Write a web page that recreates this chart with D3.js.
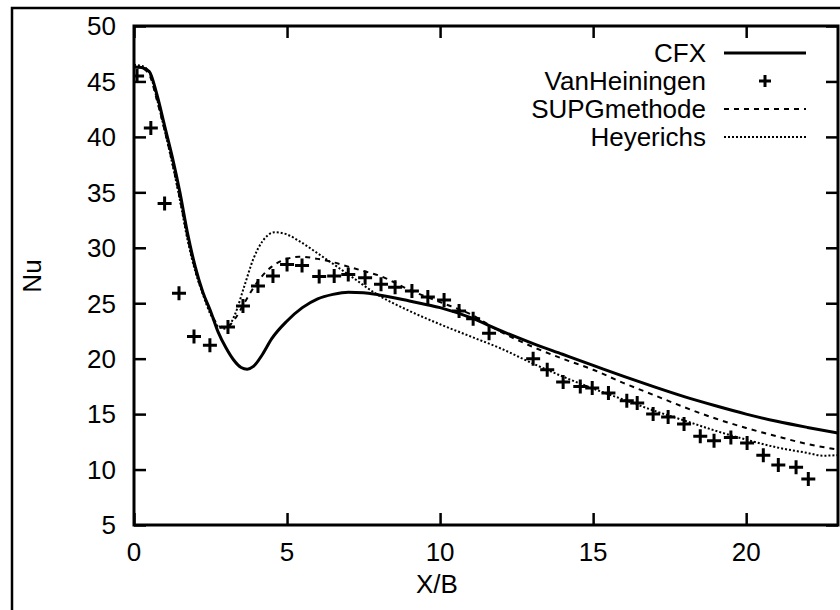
<!DOCTYPE html>
<html>
<head>
<meta charset="utf-8">
<script src="https://cdn.jsdelivr.net/npm/d3@7"></script>
<style>
  body { margin: 0; background: #fff; }
  text { font-family: "Liberation Sans", Arial, sans-serif; fill: #000; }
</style>
</head>
<body>
<div id="chart"></div>
<script>
// X/B positions and Nu values
var cfxX = [0, 0.25, 0.5, 0.75, 1.0, 1.25, 1.5, 1.75, 2.0, 2.25, 2.5, 2.75, 3.0, 3.25, 3.5, 3.7, 3.9, 4.2, 4.5, 5.0, 5.5, 6.0, 6.5, 7.0, 7.5, 8, 9, 10, 11, 12, 13, 14, 15, 16, 17, 18, 19, 20, 21, 22, 23];
var cfxNu = [46.3, 46.25, 45.9, 43.8, 41.0, 38.2, 35.0, 31.3, 28.3, 26.0, 24.3, 22.4, 21.0, 19.9, 19.2, 19.05, 19.3, 20.4, 21.8, 23.4, 24.6, 25.4, 25.8, 26.0, 25.95, 25.75, 25.2, 24.6, 23.7, 22.5, 21.4, 20.4, 19.4, 18.4, 17.45, 16.55, 15.75, 15.0, 14.35, 13.8, 13.3];

var supgX = [0, 0.25, 0.5, 0.75, 1.0, 1.25, 1.5, 1.75, 2.0, 2.25, 2.5, 2.8, 3.0, 3.3, 3.6, 4.0, 4.5, 5.0, 5.4, 6.0, 6.5, 7.0, 7.5, 8.0, 9, 10, 11, 12, 13, 14, 15, 16, 17, 18, 19, 20, 21, 22, 23];
var supgNu = [46.3, 46.2, 45.6, 43.3, 40.6, 37.7, 34.4, 30.9, 28.0, 25.9, 24.2, 22.9, 22.8, 23.6, 25.0, 26.8, 28.3, 29.0, 29.2, 29.0, 28.7, 28.3, 27.9, 27.5, 26.2, 25.1, 24.0, 22.4, 21.1, 20.0, 19.0, 17.8, 16.7, 15.6, 14.6, 13.75, 13.0, 12.3, 11.8];

var heyX = [0, 0.25, 0.5, 0.75, 1.0, 1.25, 1.5, 1.75, 2.0, 2.25, 2.5, 2.8, 3.0, 3.3, 3.6, 3.9, 4.2, 4.6, 5.0, 5.4, 6.0, 7.0, 8.0, 9, 10, 11, 12, 13, 14, 15, 16, 17, 18, 19, 20, 21, 22, 22.5, 23];
var heyNu = [46.5, 46.4, 45.8, 43.4, 40.6, 37.6, 34.3, 30.7, 27.9, 25.8, 24.0, 22.8, 22.7, 24.0, 26.5, 29.0, 30.6, 31.4, 31.2, 30.6, 29.5, 27.6, 25.7, 24.3, 23.1, 22.0, 20.9, 19.6, 18.4, 17.3, 16.3, 15.3, 14.4, 13.5, 12.7, 12.0, 11.5, 11.25, 11.3];

var vhX = [0.1, 0.55, 1.0, 1.47, 1.96, 2.48, 3.07, 3.56, 4.05, 4.54, 5.0, 5.49, 6.05, 6.54, 7.0, 7.55, 8.07, 8.53, 9.08, 9.6, 10.13, 10.62, 11.08, 11.6, 13.04, 13.5, 14.02, 14.58, 14.97, 15.5, 16.1, 16.44, 16.96, 17.45, 17.97, 18.5, 18.95, 19.5, 20.03, 20.56, 21.05, 21.63, 22.03];
var vhNu = [45.5, 40.8, 34.0, 25.9, 22.0, 21.2, 22.85, 24.75, 26.55, 27.45, 28.5, 28.4, 27.4, 27.45, 27.6, 27.3, 26.7, 26.45, 26.1, 25.55, 25.3, 24.3, 23.6, 22.3, 20.0, 19.0, 17.9, 17.5, 17.35, 16.9, 16.2, 16.0, 15.0, 14.75, 14.1, 13.0, 12.6, 12.9, 12.4, 11.3, 10.4, 10.2, 9.15];

var xTicks = [0, 5, 10, 15, 20];
var yTicks = [5, 10, 15, 20, 25, 30, 35, 40, 45, 50];
var legendNames = ["CFX", "VanHeiningen", "SUPGmethode", "Heyerichs"];

var W = 840, H = 610;
var pL = 134, pR = 838, pT = 26, pB = 525;
var fs = "26px";

var svg = d3.select("#chart").append("svg")
    .attr("width", W)
    .attr("height", H);

// outer frame (runs off the picture at right and bottom)
svg.append("rect")
    .attr("x", 12).attr("y", 8)
    .attr("width", 840).attr("height", 640)
    .attr("fill", "none")
    .attr("stroke", "#000")
    .attr("stroke-width", 2.5);

var x = d3.scaleLinear().domain([0, 23]).range([pL, pR]);
var y = d3.scaleLinear().domain([5, 50]).range([pB, pT]);

svg.append("clipPath").attr("id", "clip")
    .append("rect")
    .attr("x", pL).attr("y", pT)
    .attr("width", pR - pL).attr("height", pB - pT);

// ticks pointing inward on all four sides, labels on left and bottom
var tl = 12;
function noDomain(g) { g.select(".domain").remove(); }
svg.append("g")
    .attr("transform", "translate(" + pL + ",0)")
    .call(d3.axisRight(y).tickValues(yTicks).tickSize(tl).tickFormat(""))
    .call(noDomain);
svg.append("g")
    .attr("transform", "translate(" + pR + ",0)")
    .call(d3.axisLeft(y).tickValues(yTicks).tickSize(tl).tickFormat(""))
    .call(noDomain);
svg.append("g")
    .attr("transform", "translate(0," + pB + ")")
    .call(d3.axisTop(x).tickValues(xTicks).tickSize(tl).tickFormat(""))
    .call(noDomain);
svg.append("g")
    .attr("transform", "translate(0," + pT + ")")
    .call(d3.axisBottom(x).tickValues(xTicks).tickSize(tl).tickFormat(""))
    .call(noDomain);
svg.selectAll(".tick line").attr("stroke", "#000").attr("stroke-width", 2.5);

svg.selectAll(".ylab")
    .data(yTicks)
    .enter().append("text")
    .attr("class", "ylab")
    .attr("x", pL - 18)
    .attr("y", function(d) { return y(d); })
    .attr("dy", "0.36em")
    .attr("text-anchor", "end")
    .style("font-size", fs)
    .text(function(d) { return d; });

svg.selectAll(".xlab")
    .data(xTicks)
    .enter().append("text")
    .attr("class", "xlab")
    .attr("x", function(d) { return x(d); })
    .attr("y", pB + 27)
    .attr("dy", "0.36em")
    .attr("text-anchor", "middle")
    .style("font-size", fs)
    .text(function(d) { return d; });

svg.append("text")
    .attr("x", 437)
    .attr("y", 584)
    .attr("dy", "0.36em")
    .attr("text-anchor", "middle")
    .style("font-size", fs)
    .text("X/B");

svg.append("text")
    .attr("transform", "translate(32,276) rotate(-90)")
    .attr("dy", "0.36em")
    .attr("text-anchor", "middle")
    .style("font-size", fs)
    .text("Nu");

// series
var plot = svg.append("g").attr("clip-path", "url(#clip)");

function lineOf(xs, ys) {
    return d3.line()
        .x(function(d, i) { return x(xs[i]); })
        .y(function(d, i) { return y(ys[i]); })
        .curve(d3.curveMonotoneX)(xs);
}

plot.append("path")
    .attr("d", lineOf(heyX, heyNu))
    .attr("fill", "none")
    .attr("stroke", "#000")
    .attr("stroke-width", 2)
    .attr("stroke-dasharray", "2,2");

plot.append("path")
    .attr("d", lineOf(supgX, supgNu))
    .attr("fill", "none")
    .attr("stroke", "#000")
    .attr("stroke-width", 2)
    .attr("stroke-dasharray", "5,5");

plot.append("path")
    .attr("d", lineOf(cfxX, cfxNu))
    .attr("fill", "none")
    .attr("stroke", "#000")
    .attr("stroke-width", 3);

plot.selectAll(".vh")
    .data(vhX)
    .enter().append("path")
    .attr("class", "vh")
    .attr("transform", function(d, i) { return "translate(" + x(d) + "," + y(vhNu[i]) + ")"; })
    .attr("d", "M-7,0H7M0,-7V7")
    .attr("stroke", "#000")
    .attr("stroke-width", 3);

// plot frame
svg.append("rect")
    .attr("x", pL).attr("y", pT)
    .attr("width", pR - pL).attr("height", pB - pT)
    .attr("fill", "none")
    .attr("stroke", "#000")
    .attr("stroke-width", 3);

// legend
var legend = svg.append("g");
legendNames.forEach(function(name, i) {
    var ly = 53 + i * 28;
    legend.append("text")
        .attr("x", 706)
        .attr("y", ly)
        .attr("dy", "0.36em")
        .attr("text-anchor", "end")
        .style("font-size", fs)
        .text(name);
    if (i === 1) {
        legend.append("path")
            .attr("transform", "translate(765," + ly + ")")
            .attr("d", "M-6,0H6M0,-6V6")
            .attr("stroke", "#000")
            .attr("stroke-width", 3);
    } else {
        var ln = legend.append("line")
            .attr("x1", 724).attr("x2", 806)
            .attr("y1", ly).attr("y2", ly)
            .attr("stroke", "#000");
        if (i === 0) ln.attr("stroke-width", 3);
        if (i === 2) ln.attr("stroke-width", 2).attr("stroke-dasharray", "5,5");
        if (i === 3) ln.attr("stroke-width", 2).attr("stroke-dasharray", "2,2");
    }
});
</script>
</body>
</html>
